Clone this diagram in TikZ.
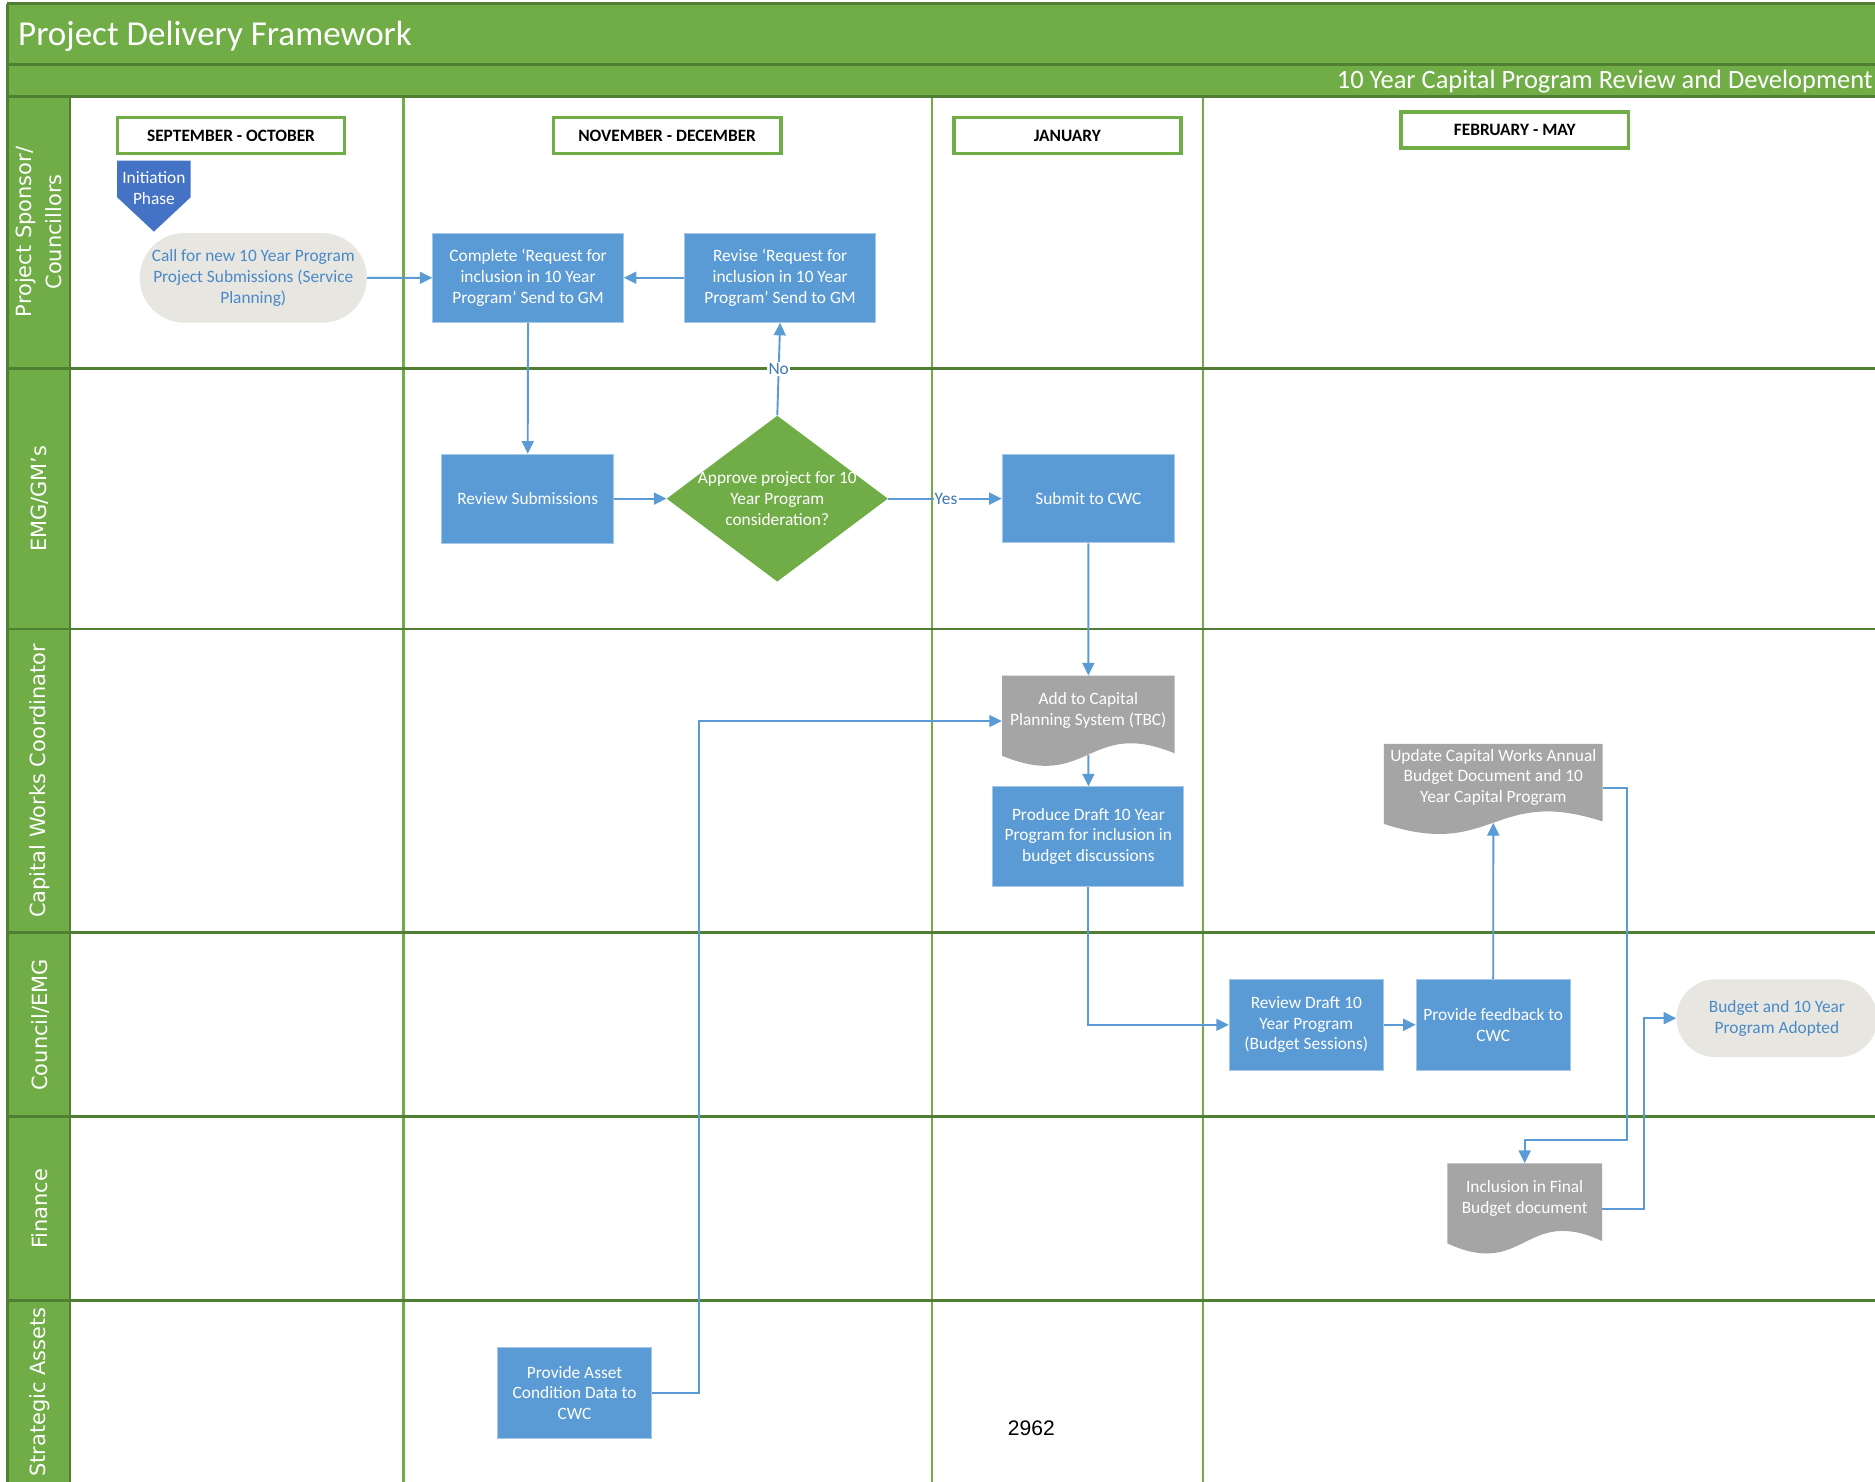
\documentclass[tikz,border=0pt]{standalone}
\usepackage{fontspec}
\setmainfont{Carlito}
\newfontfamily\lanefont{DejaVu Sans}
\newfontfamily\numfont{Liberation Sans}
\usetikzlibrary{arrows.meta,shapes.geometric,shapes.misc}
\definecolor{hgreen}{HTML}{70AD47}
\definecolor{dgreen}{HTML}{507E32}
\definecolor{boxblue}{HTML}{5B9BD5}
\definecolor{docgray}{HTML}{A5A5A5}
\definecolor{termfill}{HTML}{E7E6E1}
\definecolor{termtext}{HTML}{4A89C8}
\definecolor{initblue}{HTML}{4472C4}
\definecolor{lblblue}{HTML}{3F78B5}
\tikzset{
  conn/.style={draw=boxblue, line width=1.6pt, -{Triangle[length=10.5pt,width=10pt]}},
  proc/.style={rectangle, fill=boxblue, draw=boxblue!55!white, line width=0.8pt, text=white, align=center, inner sep=0pt, font=\fontsize{14.5}{17.3}\selectfont},
  term/.style={rounded rectangle, fill=termfill, text=termtext, align=center, inner sep=0pt, font=\fontsize{14.5}{17.3}\selectfont},
  hdr/.style={rectangle, draw=hgreen, line width=3pt, fill=white, inner sep=0pt, minimum width=190, minimum height=30, font=\bfseries\fontsize{14.5}{17}\selectfont},
  lane/.style={rotate=90, text=white, align=center, inner sep=0pt, font=\lanefont\fontsize{17.5}{25}\selectfont},
  txt/.style={align=center, inner sep=0pt, font=\fontsize{14.5}{17.3}\selectfont},
  docnode/.style={rectangle, inner sep=0pt},
  lbl/.style={fill=white, inner sep=1pt, text=lblblue, font=\fontsize{14.5}{17}\selectfont},
  laneline/.style={draw=dgreen, line width=2.5pt},
  colline/.style={draw=hgreen, line width=2pt},
}
% #1 name, #2 left x, #3 top y, #4 width, #5 text, #6 text centre y
\newcommand{\docshape}[6]{%
  \fill[docgray] (#2,#3) -- (#2+#4,#3) -- (#2+#4,#3+65)
     .. controls (#2+0.5*#4,#3+35) and (#2+0.5*#4,#3+97) .. (#2,#3+67) -- cycle;
  \node[docnode, minimum width=#4, minimum height=66] (#1) at (#2+0.5*#4,#3+33) {};
  \node[txt, text=white] (#1T) at (#2+0.5*#4,#6) {#5};
}
\begin{document}
\begin{tikzpicture}[x=1pt,y=-1pt]
\useasboundingbox (0,0) rectangle (1568,1239.3);
% ---- frame -------------------------------------------------------
\fill[hgreen] (6,3) rectangle (1572,80.3);
\fill[hgreen] (6,80.3) rectangle (58.6,1245);
\foreach \cx in {337.4,779.5,1005.9} { \draw[colline] (\cx,80.3) -- (\cx,1245); }
\draw[dgreen, line width=2.5pt] (6,3) -- (1572,3);
\draw[dgreen, line width=2.5pt] (6,54.3) -- (1572,54.3);
\foreach \ly in {80.3,308.5,526,780,933.5,1087.5} { \draw[laneline] (6,\ly) -- (1572,\ly); }
\draw[dgreen, line width=2pt] (58.6,80.3) -- (58.6,1245);
\draw[dgreen, line width=2.5pt] (6,3) -- (6,1245);
% ---- titles ------------------------------------------------------
\node[anchor=base west, inner sep=0pt, text=white, font=\fontsize{29.3}{33}\selectfont] (title) at (15,38) {Project Delivery Framework};
\node[anchor=base east, inner sep=0pt, text=white, font=\fontsize{22.1}{26}\selectfont] (subtitle) at (1566.3,74) {10 Year Capital Program Review and Development};
% ---- lane labels -------------------------------------------------
\node[lane] (l1) at (32.5,194) {Project Sponsor/\\Councillors};
\node[lane] (l2) at (33.5,417) {EMG/GM’s};
\node[lane] (l3) at (33,653) {Capital Works Coordinator};
\node[lane] (l4) at (33.5,857) {Council/EMG};
\node[lane] (l5) at (33.5,1011) {Finance};
\node[lane] (l6) at (33,1164) {Strategic Assets};
% ---- period headers ----------------------------------------------
\node[hdr] (h1) at (193.2,113.3) {SEPTEMBER - OCTOBER};
\node[hdr] (h2) at (557.9,113.3) {NOVEMBER - DECEMBER};
\node[hdr] (h3) at (892.6,113.4) {JANUARY};
\node[hdr] (h4) at (1266.7,108.7) {FEBRUARY - MAY};
% ---- initiation phase marker -------------------------------------
\fill[initblue] (98,134.3) -- (159.4,134.3) -- (159.4,165) -- (128.7,193.7) -- (98,165) -- cycle;
\node[txt, text=white] (initT) at (128.7,157.5) {Initiation\\Phase};
% ---- process shapes ----------------------------------------------
\node[term, minimum width=190, minimum height=75] (call) at (211.8,232.4) {Call for new 10 Year Program\\Project Submissions (Service\\Planning)};
\node[proc, minimum width=159.3, minimum height=74.5] (complete) at (441.6,232.3) {Complete ‘Request for\\inclusion in 10 Year\\Program’ Send to GM};
\node[proc, minimum width=160, minimum height=74.5] (revise) at (652.4,232.3) {Revise ‘Request for\\inclusion in 10 Year\\Program’ Send to GM};
\node[proc, minimum width=144, minimum height=74.3] (review) at (441.3,417) {Review Submissions};
\node[diamond, fill=hgreen, inner sep=0pt, minimum width=185, minimum height=138.8] (dec) at (650,417) {};
\node[txt, text=white] (decT) at (650,417) {Approve project for 10\\Year Program\\consideration?};
\node[proc, minimum width=144.3, minimum height=74] (submit) at (910.2,417) {Submit to CWC};
\docshape{add}{838}{565}{144.3}{Add to Capital\\Planning System (TBC)}{594}
\node[proc, minimum width=159.7, minimum height=83] (produce) at (910.2,699.5) {Produce Draft 10 Year\\Program for inclusion in\\budget discussions};
\docshape{upd}{1157.3}{622}{183}{Update Capital Works Annual\\Budget Document and 10\\Year Capital Program}{650}
\node[proc, minimum width=128.7, minimum height=76] (rdraft) at (1092.4,857) {Review Draft 10\\Year Program\\(Budget Sessions)};
\node[proc, minimum width=128.8, minimum height=76] (feedback) at (1248.7,857) {Provide feedback to\\CWC};
\node[term, minimum width=168, minimum height=65] (adopt) at (1486,851.5) {Budget and 10 Year\\Program Adopted};
\docshape{inc}{1210.4}{972.8}{129.3}{Inclusion in Final\\Budget document}{1002}
\node[proc, minimum width=129, minimum height=75.5] (asset) at (480.5,1164.8) {Provide Asset\\Condition Data to\\CWC};
\node[inner sep=0pt, font=\numfont\fontsize{17.6}{20}\selectfont] (num) at (862.5,1194) {2962};
% ---- connectors --------------------------------------------------
\coordinate (j1) at (1360.7,953.4);
\coordinate (j2) at (1374.8,851.5);
\coordinate (j3) at (584.5,603);
\draw[conn] (call.east) -- (complete.west);
\draw[conn] (revise.west) -- (complete.east);
\draw[conn] (complete.south) -- (review.north);
\draw[conn] (review.east) -- (dec.west);
\draw[conn] (dec.north) -- node[lbl, pos=0.5] (no) {No} (revise.south);
\draw[conn] (dec.east) -- node[lbl, pos=0.51] (yes) {Yes} (submit.west);
\draw[conn] (submit.south) -- (add.north);
\draw[conn] (add.south) -- (produce.north);
\draw[conn] (produce.south) |- (rdraft.west);
\draw[conn] (rdraft.east) -- (feedback.west);
\draw[conn] (feedback.north) -- (upd.south);
\draw[conn] ([yshift=-4pt]upd.east) -| (j1) -| (inc.north);
\draw[conn] ([yshift=-5pt]inc.east) -| (j2) -- (adopt.west);
\draw[conn] (asset.east) -| (j3) -- ([yshift=-5pt]add.west);
\end{tikzpicture}
\end{document}
